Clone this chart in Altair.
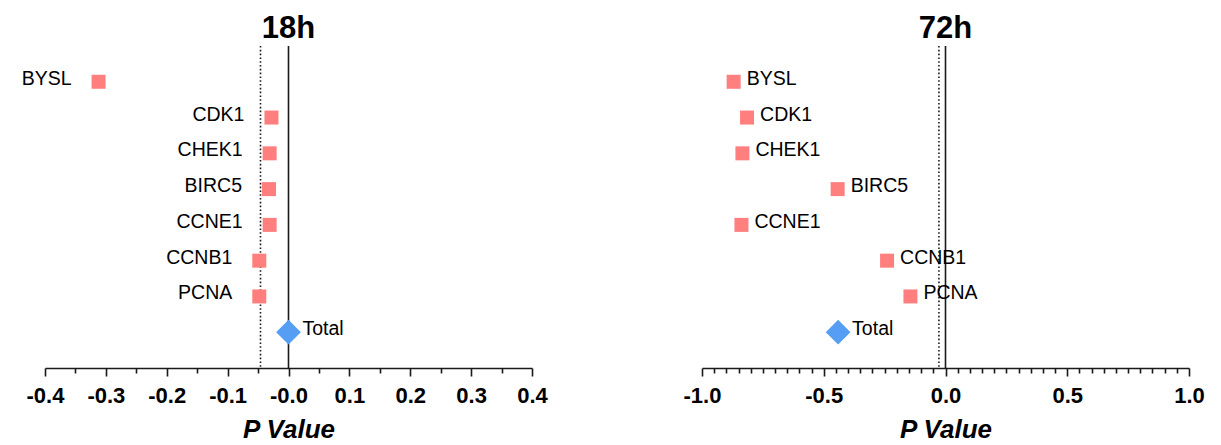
import altair as alt
import pandas as pd

FONT = "Liberation Sans"

genes = ["BYSL", "CDK1", "CHEK1", "BIRC5", "CCNE1", "CCNB1", "PCNA", "Total"]
p_18h = [-0.312, -0.028, -0.031, -0.032, -0.031, -0.048, -0.048, 0.0]
p_72h = [-0.870, -0.815, -0.834, -0.443, -0.838, -0.240, -0.144, -0.441]
threshold_18h = -0.046
threshold_72h = -0.027

major_18h = [-0.4, -0.3, -0.2, -0.1, 0.0, 0.1, 0.2, 0.3, 0.4]
labels_18h = ["-0.4", "-0.3", "-0.2", "-0.1", "-0.0", "0.1", "0.2", "0.3", "0.4"]
minor_18h = [-0.35, -0.25, -0.15, -0.05, 0.05, 0.15, 0.25, 0.35]
major_72h = [-1.0, -0.5, 0.0, 0.5, 1.0]
labels_72h = ["-1.0", "-0.5", "0.0", "0.5", "1.0"]
minor_72h = [round(-1.0 + 0.05 * i, 2) for i in range(41) if i % 10 != 0]

SQ_COLOR = "#FF7F7F"
DIA_COLOR = "#559EF3"
LINE = "#1a1a1a"


def make_panel(title, values, thr, domain, majors, labels, minors, left_labels):
    df = pd.DataFrame({"gene": genes, "p": values})
    df["kind"] = ["Total" if g == "Total" else "Gene" for g in genes]
    arr = "[" + ",".join(f"'{s}'" for s in labels) + "]"
    n = len(majors) - 1
    label_expr = (
        f"{arr}[round((datum.value - ({domain[0]})) / ({domain[1]} - ({domain[0]})) * {n})]"
    )

    xscale = alt.Scale(domain=domain, nice=False, zero=False)
    major_axis = alt.Axis(
        orient="bottom",
        values=majors,
        labelExpr=label_expr,
        title="P Value",
        grid=False,
        domainColor=LINE,
        domainWidth=1.6,
        tickColor=LINE,
        tickWidth=1.6,
        tickSize=8,
        labelFont=FONT,
        labelFontSize=22,
        labelFontWeight="bold",
        labelColor="black",
        labelBaseline="alphabetic",
        labelPadding=26.7,
        labelFlush=False,
        labelOverlap=False,
        titleFont=FONT,
        titleFontSize=26,
        titleFontWeight="bold",
        titleFontStyle="italic",
        titleColor="black",
        titleBaseline="alphabetic",
        titleY=69.3,
    )
    minor_axis = alt.Axis(
        orient="bottom",
        values=minors,
        labels=False,
        title=None,
        grid=False,
        domain=False,
        tickColor=LINE,
        tickWidth=1.6,
        tickSize=5,
    )
    yenc = alt.Y("gene:N", sort=genes, scale=alt.Scale(type="point", padding=1), axis=None)

    base = alt.Chart(df)
    zero_rule = alt.Chart(pd.DataFrame({"x": [0.0]})).mark_rule(
        color=LINE, strokeWidth=1.6
    ).encode(x=alt.X("x:Q", scale=xscale, axis=major_axis))
    thr_rule = alt.Chart(pd.DataFrame({"x": [thr]})).mark_rule(
        color=LINE, strokeWidth=1.6, strokeDash=[1.6, 2.2]
    ).encode(x=alt.X("x:Q", scale=xscale, axis=minor_axis))

    squares = base.transform_filter("datum.kind == 'Gene'").mark_point(
        shape="square", filled=True, size=196, opacity=1, color=SQ_COLOR
    ).encode(x=alt.X("p:Q", scale=xscale, axis=None), y=yenc)
    diamond = base.transform_filter("datum.kind == 'Total'").mark_point(
        shape="diamond", filled=True, size=610, opacity=1, color=DIA_COLOR
    ).encode(x=alt.X("p:Q", scale=xscale, axis=None), y=yenc)

    txt_props = dict(font=FONT, fontSize=19.5, color="black", baseline="alphabetic", dy=3)
    if left_labels:
        gene_txt = base.transform_filter("datum.kind == 'Gene'").mark_text(
            align="right", dx=-27, **txt_props
        ).encode(x=alt.X("p:Q", scale=xscale, axis=None), y=yenc, text="gene:N")
    else:
        gene_txt = base.transform_filter("datum.kind == 'Gene'").mark_text(
            align="left", dx=13, **txt_props
        ).encode(x=alt.X("p:Q", scale=xscale, axis=None), y=yenc, text="gene:N")
    total_txt = base.transform_filter("datum.kind == 'Total'").mark_text(
        align="left", dx=14, **txt_props
    ).encode(x=alt.X("p:Q", scale=xscale, axis=None), y=yenc, text="gene:N")

    return alt.layer(
        zero_rule, thr_rule, squares, diamond, gene_txt, total_txt
    ).resolve_axis(x="independent").properties(
        width=487,
        height=322,
        title=alt.TitleParams(
            title, font=FONT, fontSize=31, fontWeight="bold", color="black",
            anchor="middle", baseline="alphabetic", offset=-24,
        ),
    )


left = make_panel("18h", p_18h, threshold_18h, [-0.4, 0.4], major_18h, labels_18h, minor_18h, True)
right = make_panel("72h", p_72h, threshold_72h, [-1.0, 1.0], major_72h, labels_72h, minor_72h, False)

chart = alt.hconcat(left, right, spacing=170, bounds="flush").properties(
    padding={"left": 13, "top": 5, "right": 5, "bottom": 0}
).configure_view(strokeWidth=0)

chart.save("out.html", embed_options={"renderer": "svg", "actions": False})
